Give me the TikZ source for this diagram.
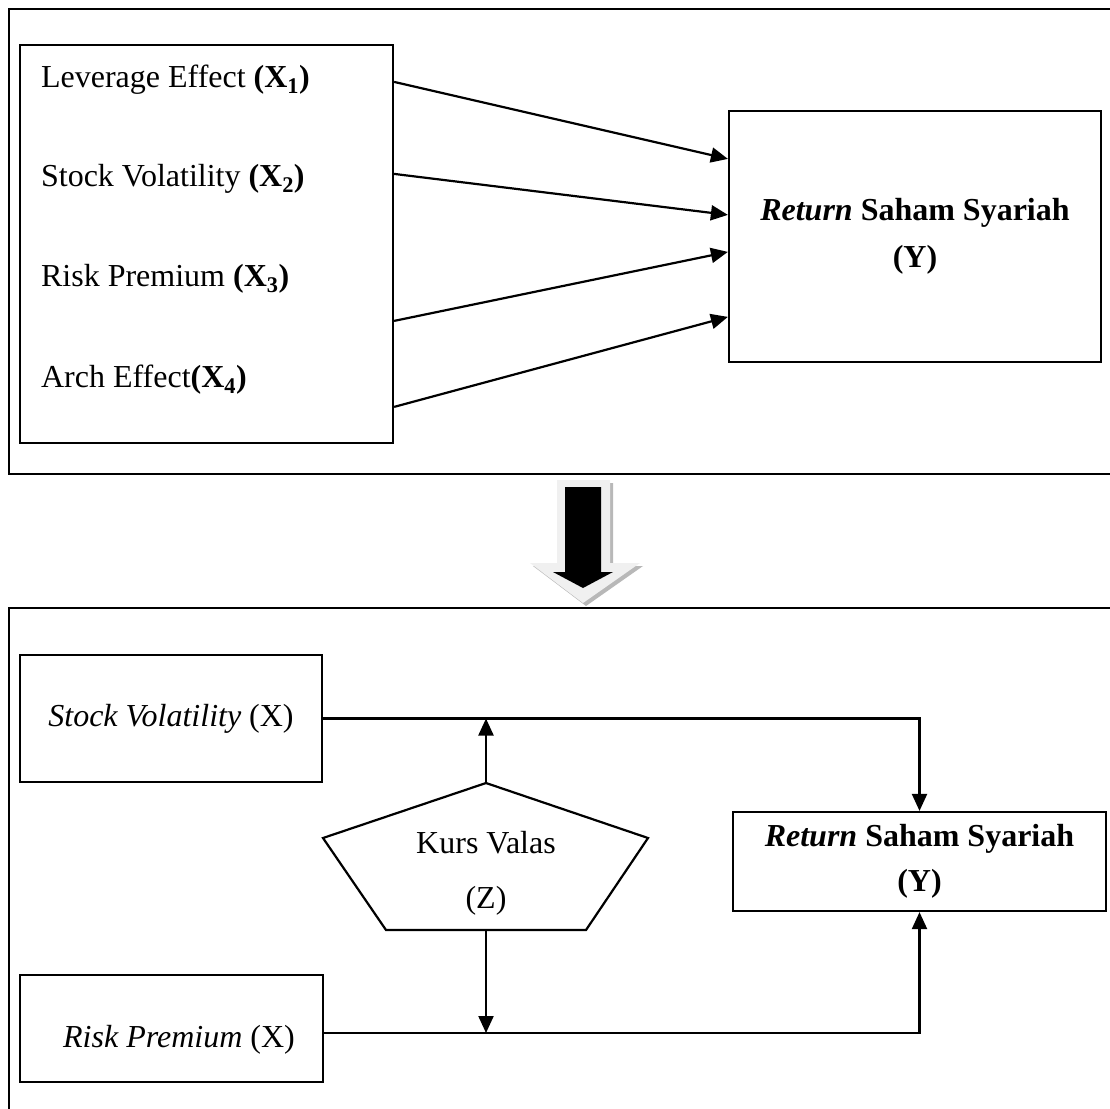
\documentclass[tikz,border=0pt]{standalone}
\usepackage{fontspec}
\setmainfont{Liberation Serif}
\usetikzlibrary{arrows.meta,calc}
\begin{document}
\begin{tikzpicture}[x=1pt,y=-1pt,line width=2.2pt,
  box/.style={draw,line width=2.2pt,inner sep=0pt,font=\fontsize{32}{47}\selectfont},
  txt/.style={inner sep=0pt,font=\fontsize{32}{47}\selectfont},
  arr/.style={-{Triangle[length=17pt,width=15pt]},line width=2.2pt}]
\useasboundingbox (0,0) rectangle (1110,1108);
\fill[white] (0,0) rectangle (1110,1108);
\clip (0,0) rectangle (1110,1108);

% frames
\draw (9,9) rectangle (1140,474);
\draw (9,608) rectangle (1140,1140);

% ---- top section ----
\node[box,minimum width=373pt,minimum height=398pt] (xbox) at (206.5,244) {};
\node[txt,anchor=base west] (x1) at (40,87) {Leverage Effect \textbf{(X\textsubscript{1})}};
\node[txt,anchor=base west] (x2) at (40,186) {Stock Volatility \textbf{(X\textsubscript{2})}};
\node[txt,anchor=base west] (x3) at (40,286) {Risk Premium \textbf{(X\textsubscript{3})}};
\node[txt,anchor=base west] (x4) at (40,387) {Arch Effect\textbf{(X\textsubscript{4})}};

\node[box,minimum width=372pt,minimum height=251pt,align=center] (ybox) at (915,236.5)
  {\textbf{\textit{Return}} \textbf{Saham Syariah}\\\textbf{(Y)}};

\draw[arr] ([yshift=-38pt]xbox.north east) -- ([yshift=-49pt]ybox.north west);
\draw[arr] ([yshift=-130pt]xbox.north east) -- ([yshift=-105pt]ybox.north west);
\draw[arr] ([yshift=-277pt]xbox.north east) -- ([yshift=-142pt]ybox.north west);
\draw[arr] ([yshift=-363pt]xbox.north east) -- ([yshift=-207pt]ybox.north west);

% ---- big block arrow ----
\fill[black!28] (560,483) -- (613,483) -- (613,566) -- (643,566) -- (586,606) -- (533,566) -- (560,566) -- cycle;
\fill[black!6] (557,480) -- (610,480) -- (610,563) -- (640,563) -- (583,603) -- (530,563) -- (557,563) -- cycle;
\fill[black] (565,487) -- (601,487) -- (601,572) -- (613,572) -- (583,588) -- (553,572) -- (565,572) -- cycle;

% ---- bottom section ----
\node[box,minimum width=302pt,minimum height=127pt] (sbox) at (171,718.5) {\textit{Stock Volatility} (X)};
\node[box,minimum width=303pt,minimum height=107pt] (rbox) at (171.5,1028.5) {};
\node[txt] (rtext) at (179,1040) {\textit{Risk Premium} (X)};

\node[box,minimum width=373pt,minimum height=99pt,align=center,font=\fontsize{32}{45}\selectfont] (ybox2) at (919.5,861.5)
  {\textbf{\textit{Return}} \textbf{Saham Syariah}\\\textbf{(Y)}};

% pentagon
\draw (486,783) -- (648,838) -- (586,930) -- (386,930) -- (323,838) -- cycle;
\coordinate (ptop) at (486,783);
\coordinate (pbot) at (486,930);
\node[txt] (kurs) at (486,843) {Kurs Valas};
\node[txt] (zlab) at (486,901) {(Z)};

\coordinate (rl) at ([yshift=-4.5pt]rbox.east);
\draw[arr] (sbox.east) -| (ybox2.north);
\draw[arr] (rl) -| (ybox2.south);
\draw[arr] (ptop) -- (ptop |- sbox.east);
\draw[arr] (pbot) -- (pbot |- rl);
\end{tikzpicture}
\end{document}
